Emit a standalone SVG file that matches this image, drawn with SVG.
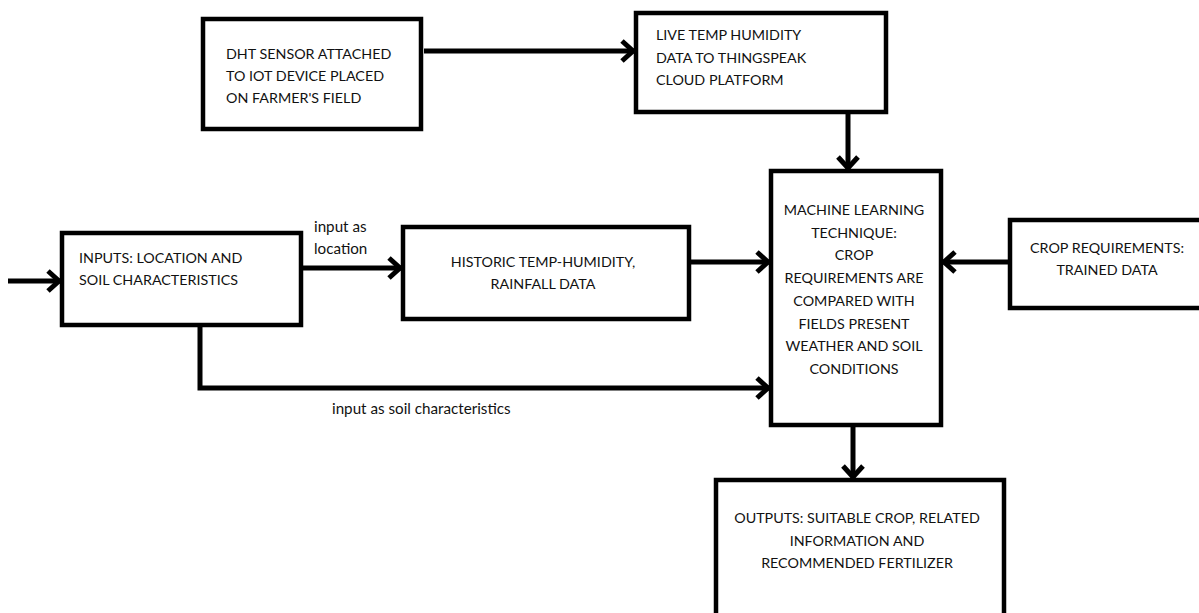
<svg xmlns="http://www.w3.org/2000/svg" width="1199" height="613" viewBox="0 0 1199 613">
<style>
.box{fill:#fff;stroke:#000;stroke-width:4.5}
.t{font-family:Lato,"Liberation Sans",sans-serif;font-size:14.3px;fill:#111}
.c{text-anchor:middle}
.l{font-family:Lato,"Liberation Sans",sans-serif;font-size:15.2px;fill:#111}
.con{fill:none;stroke:#000;stroke-width:5}
</style>
<defs>
<marker id="ah" markerUnits="userSpaceOnUse" markerWidth="30" markerHeight="30" viewBox="-16 -15 20 30" refX="0" refY="0" orient="auto">
<path d="M-12,-10 L-1,0 L-12,10" fill="none" stroke="#000" stroke-width="5"/>
</marker>
</defs>
<rect width="1199" height="613" fill="#fff"/>
<g id="connectors">
<line class="con" x1="424" y1="51" x2="634" y2="51" marker-end="url(#ah)"/>
<line class="con" x1="848" y1="114" x2="848" y2="169" marker-end="url(#ah)"/>
<line class="con" x1="8" y1="281" x2="60" y2="281" marker-end="url(#ah)"/>
<line class="con" x1="303" y1="268" x2="401" y2="268" marker-end="url(#ah)"/>
<line class="con" x1="691" y1="262" x2="769" y2="262" marker-end="url(#ah)"/>
<polyline class="con" points="200,327 200,388 769,388" marker-end="url(#ah)"/>
<line class="con" x1="1008" y1="262" x2="943" y2="262" marker-end="url(#ah)"/>
<line class="con" x1="853" y1="427" x2="853" y2="478" marker-end="url(#ah)"/>
<text class="l" x="314" y="232">input as</text>
<text class="l" x="314" y="254">location</text>
<text class="l" x="332" y="414">input as soil characteristics</text>
</g>
<g id="dht">
<rect class="box" x="203" y="19" width="218" height="110"/>
<text class="t" x="226" y="59">DHT SENSOR ATTACHED</text>
<text class="t" x="226" y="81">TO IOT DEVICE PLACED</text>
<text class="t" x="226" y="103">ON FARMER'S FIELD</text>
</g>
<g id="live">
<rect class="box" x="636" y="13" width="250" height="99"/>
<text class="t" x="656" y="40">LIVE TEMP HUMIDITY</text>
<text class="t" x="656" y="63">DATA TO THINGSPEAK</text>
<text class="t" x="656" y="85">CLOUD PLATFORM</text>
</g>
<g id="inputs">
<rect class="box" x="62" y="233" width="239" height="92"/>
<text class="t" x="79" y="263">INPUTS: LOCATION AND</text>
<text class="t" x="79" y="285">SOIL CHARACTERISTICS</text>
</g>
<g id="historic">
<rect class="box" x="403" y="227" width="286" height="92"/>
<text class="t c" x="543" y="267">HISTORIC TEMP-HUMIDITY,</text>
<text class="t c" x="543" y="289">RAINFALL DATA</text>
</g>
<g id="ml">
<rect class="box" x="771" y="171" width="170" height="254"/>
<text class="t c" x="854" y="215">MACHINE LEARNING</text>
<text class="t c" x="854" y="238">TECHNIQUE:</text>
<text class="t c" x="854" y="260">CROP</text>
<text class="t c" x="854" y="283">REQUIREMENTS ARE</text>
<text class="t c" x="854" y="306">COMPARED WITH</text>
<text class="t c" x="854" y="329">FIELDS PRESENT</text>
<text class="t c" x="854" y="351">WEATHER AND SOIL</text>
<text class="t c" x="854" y="374">CONDITIONS</text>
</g>
<g id="crop">
<rect class="box" x="1010" y="220" width="200" height="88"/>
<text class="t c" x="1107" y="253">CROP REQUIREMENTS:</text>
<text class="t c" x="1107" y="275">TRAINED DATA</text>
</g>
<g id="outputs">
<rect class="box" x="716" y="480" width="288" height="150"/>
<text class="t c" x="857" y="523">OUTPUTS: SUITABLE CROP, RELATED</text>
<text class="t c" x="857" y="546">INFORMATION AND</text>
<text class="t c" x="857" y="568">RECOMMENDED FERTILIZER</text>
</g>
</svg>
